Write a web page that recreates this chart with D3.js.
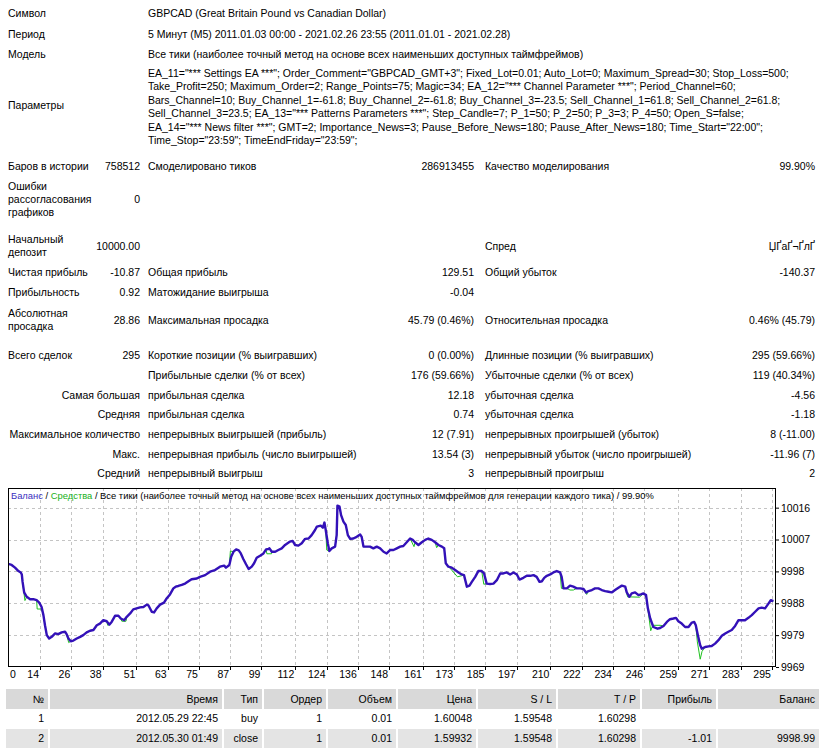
<!DOCTYPE html>
<html lang="ru">
<head>
<meta charset="UTF-8">
<title>Strategy Tester Report GBPCAD</title>
<script src="https://d3js.org/d3.v7.min.js"></script>
<style>
  body { margin: 0; background: #fff; }
  svg { display: block; font-family: "Liberation Sans", Arial, sans-serif; font-size: 10.5px; }
</style>
</head>
<body>
<div id="report"></div>
<script>
// --- chart data ---
const balanceTrade = [1.8,3.1,4.4,5.7,6.6,7.0,7.3,7.9,8.9,10.2,11.4,12.7,13.7,14.6,15.3,15.9,16.6,17.5,18.5,19.8,21.0,22.3,23.6,24.2,24.9,25.8,26.8,28.1,29.4,30.6,31.9,33.2,34.5,35.8,37.0,38.3,39.6,40.6,41.5,42.8,44.1,45.0,46.3,47.3,48.6,49.8,51.1,52.4,53.7,55.0,55.6,56.9,57.8,58.8,60.1,61.6,62.6,63.9,65.2,66.1,67.1,68.4,69.7,71.0,72.2,74.2,75.4,77.4,79.3,81.2,83.1,84.7,85.4,86.7,87.4,88.3,89.3,90.3,91.1,92.1,93.1,94.1,95.3,96.2,97.2,98.5,99.8,100.8,101.7,102.1,103.0,104.3,105.5,106.8,108.1,110.0,111.0,111.9,113.2,114.5,115.8,117.1,118.3,119.6,120.3,121.8,122.6,123.2,123.7,124.5,125.1,126.0,127.3,127.9,128.2,129.0,129.6,130.5,131.4,132.2,133.1,134.3,135.6,136.9,137.5,138.2,139.5,140.7,142.0,143.3,144.6,145.9,147.1,148.4,149.7,151.0,152.3,153.5,154.8,156.1,157.1,158.0,159.3,160.6,161.9,163.1,164.4,165.7,167.0,168.3,169.2,169.8,170.8,172.1,173.4,174.7,175.9,176.8,177.9,178.9,179.8,181.1,182.3,183.6,184.5,185.5,186.8,188.1,189.4,190.7,191.9,193.2,194.5,195.8,197.1,198.1,199.6,200.9,202.2,203.5,204.7,205.8,206.7,207.6,208.6,209.9,211.1,212.4,213.7,214.3,215.0,216.3,217.5,218.8,220.1,221.4,222.7,223.7,224.6,225.9,227.1,228.4,229.7,231.0,232.3,233.5,234.8,236.1,237.4,238.7,239.3,240.3,241.2,242.5,243.8,244.7,245.7,246.7,247.4,248.3,249.5,251.1,252.1,253.4,254.7,255.9,257.2,258.2,259.1,260.4,261.7,263.0,264.3,265.2,265.8,266.6,267.5,268.1,269.4,270.7,271.9,273.2,274.5,275.8,277.1,278.3,279.6,280.9,282.2,283.5,284.7,286.0,287.3,288.6,289.9,291.1,292.4,293.7,294.6,295.6];
const balance = [9999.8,9999.5,9998.7,9997.7,9997.3,9996.7,9994.5,9991.4,9990.1,9989.4,9989.4,9989.1,9988.4,9987.1,9984.7,9981.7,9978.8,9977.8,9978.3,9979.3,9979.1,9979.6,9979.8,9979.1,9977.8,9977.0,9977.2,9977.8,9978.3,9978.8,9979.6,9980.1,9980.3,9981.7,9982.2,9983.2,9982.9,9981.9,9982.7,9984.5,9984.5,9983.7,9983.2,9984.2,9985.2,9986.4,9986.7,9987.0,9987.1,9987.8,9987.6,9985.7,9985.5,9986.7,9987.8,9988.4,9989.6,9990.8,9992.6,9993.1,9993.3,9993.6,9994.0,9994.7,9995.3,9995.5,9996.0,9996.5,9997.5,9998.0,9999.0,9999.3,9998.7,9999.5,10001.9,10003.4,10004.1,10003.8,10002.9,10001.2,9999.7,9998.3,9999.0,10000.0,10001.6,10002.2,10002.9,10004.1,10004.2,10004.4,10003.4,10003.4,10003.9,10004.4,10005.4,10006.4,10006.6,10005.4,10005.2,10005.9,10007.2,10007.3,10008.3,10009.8,10010.8,10011.1,10010.5,10012.0,10009.8,10005.9,10003.6,10004.4,10004.9,10008.3,10017.0,10016.7,10014.2,10012.3,10011.3,10008.3,10007.2,10007.3,10007.8,10008.5,10007.8,10004.9,10004.9,10004.9,10004.4,10004.9,10004.4,10003.4,10002.9,10003.9,10003.9,10004.4,10004.9,10005.1,10006.2,10007.3,10006.9,10006.2,10005.4,10006.2,10006.9,10007.3,10006.9,10006.2,10005.4,10004.9,10004.4,10000.0,9999.0,9998.7,9998.0,9997.3,9996.7,9996.5,9993.1,9993.4,9994.5,9996.0,9997.7,9997.7,9997.0,9994.0,9993.9,9994.0,9995.0,9997.0,9997.0,9997.3,9996.7,9997.3,9996.7,9995.2,9995.7,9996.3,9996.3,9996.5,9996.0,9994.5,9994.7,9995.7,9996.3,9996.7,9997.3,9997.7,9997.3,9996.0,9992.6,9992.6,9993.4,9993.1,9992.6,9992.6,9992.4,9991.4,9991.8,9992.1,9992.6,9992.6,9992.1,9991.8,9991.6,9991.4,9992.1,9992.8,9993.4,9993.1,9991.4,9990.1,9991.1,9991.4,9990.6,9990.8,9991.1,9990.6,9986.7,9983.7,9981.2,9980.7,9980.9,9981.5,9982.7,9983.5,9983.7,9983.9,9982.9,9982.2,9981.2,9981.2,9982.5,9982.7,9981.7,9978.8,9975.8,9974.8,9975.3,9975.5,9975.6,9976.3,9977.3,9978.6,9979.3,9979.8,9980.3,9981.5,9983.2,9983.2,9983.2,9983.9,9984.7,9985.7,9986.7,9986.9,9986.7,9988.1,9989.1,9988.8];

// equity differs from balance only in these stretches: [trade, equity]
const equitySegments = [
  [[7.3, 9994.5], [8.2, 9989.0], [8.9, 9990.1]],
  [[12.7, 9989.1], [12.9, 9986.5], [14.5, 9986.5], [15.3, 9984.7]],
  [[24.2, 9979.1], [25.0, 9976.6], [25.8, 9977.0]],
  [[39.6, 9982.9], [40.0, 9981.7], [40.6, 9981.9]],
  [[45.0, 9983.7], [45.4, 9982.9], [47.0, 9982.9], [47.3, 9984.2]],
  [[86.7, 9999.5], [87.1, 10003.6], [88.3, 10003.4]],
  [[100.8, 10004.1], [101.1, 10002.8], [102.9, 10002.8], [103.0, 10003.4]],
  [[123.7, 10009.8], [124.1, 10003.9], [125.1, 10003.6]],
  [[156.1, 10007.3], [157.6, 10004.9], [158.0, 10006.2]],
  [[165.7, 10006.2], [166.3, 10004.6], [167.0, 10005.4]],
  [[169.8, 10000.0], [174.3, 9996.0], [176.8, 9996.5]],
  [[183.6, 9997.7], [184.4, 9993.8], [185.5, 9994.0]],
  [[213.7, 9997.3], [214.2, 9992.6], [215.0, 9992.6]],
  [[216.3, 9992.6], [217.5, 9992.1], [218.8, 9992.1], [220.1, 9992.6]],
  [[222.7, 9992.4], [223.9, 9990.8], [224.6, 9991.8]],
  [[238.7, 9993.1], [239.6, 9990.1], [244.2, 9990.0], [245.7, 9991.1]],
  [[246.7, 9990.6], [248.5, 9980.1], [249.3, 9981.7], [252.1, 9981.7], [253.4, 9981.5]],
  [[265.8, 9981.7], [266.4, 9976.8], [267.5, 9971.7], [268.2, 9974.0], [269.4, 9975.3]]
];

const xTickLabels = [0, 14, 26, 38, 51, 63, 75, 87, 99, 112, 124, 136, 148, 161, 173, 185, 197, 210, 222, 234, 246, 259, 271, 283, 295];
const yTickValues = [9969.4, 9978.8, 9988.2, 9997.6, 10007.0, 10016.4];
const chartTitleRest = " / Все тики (наиболее точный метод на основе всех наименьших доступных таймфреймов для генерации каждого тика) / 99.90%";

// --- report text ---
const headerRows = [
  ["Символ", "GBPCAD (Great Britain Pound vs Canadian Dollar)", 13],
  ["Период", "5 Минут (M5) 2011.01.03 00:00 - 2021.02.26 23:55 (2011.01.01 - 2021.02.28)", 34],
  ["Модель", "Все тики (наиболее точный метод на основе всех наименьших доступных таймфреймов)", 54]
];
const paramLines = [
  'EA_11="*** Settings EA ***"; Order_Comment="GBPCAD_GMT+3"; Fixed_Lot=0.01; Auto_Lot=0; Maximum_Spread=30; Stop_Loss=500;',
  'Take_Profit=250; Maximum_Order=2; Range_Points=75; Magic=34; EA_12="*** Channel Parameter ***"; Period_Channel=60;',
  'Bars_Channel=10; Buy_Channel_1=-61.8; Buy_Channel_2=-61.8; Buy_Channel_3=-23.5; Sell_Channel_1=61.8; Sell_Channel_2=61.8;',
  'Sell_Channel_3=23.5; EA_13="*** Patterns Parameters ***"; Step_Candle=7; P_1=50; P_2=50; P_3=3; P_4=50; Open_S=false;',
  'EA_14="*** News filter ***"; GMT=2; Importance_News=3; Pause_Before_News=180; Pause_After_News=180; Time_Start="22:00";',
  'Time_Stop="23:59"; TimeEndFriday="23:59";'
];
// [y, label A (lines), value A, label B, value B, label C, value C]
const statRows = [
  [166, ["Баров в истории"], "758512", "Смоделировано тиков", "286913455", "Качество моделирования", "99.90%"],
  [199, ["Ошибки", "рассогласования", "графиков"], "0", "", "", "", ""],
  [246, ["Начальный", "депозит"], "10000.00", "", "", "Спред", "ЏҐаҐ¬ҐлҐ"],
  [272, ["Чистая прибыль"], "-10.87", "Общая прибыль", "129.51", "Общий убыток", "-140.37"],
  [292, ["Прибыльность"], "0.92", "Матожидание выигрыша", "-0.04", "", ""],
  [320, ["Абсолютная", "просадка"], "28.86", "Максимальная просадка", "45.79 (0.46%)", "Относительная просадка", "0.46% (45.79)"],
  [355, ["Всего сделок"], "295", "Короткие позиции (% выигравших)", "0 (0.00%)", "Длинные позиции (% выигравших)", "295 (59.66%)"],
  [375, [], "", "Прибыльные сделки (% от всех)", "176 (59.66%)", "Убыточные сделки (% от всех)", "119 (40.34%)"],
  [395, [], "Самая большая", "прибыльная сделка", "12.18", "убыточная сделка", "-4.56"],
  [414, [], "Средняя", "прибыльная сделка", "0.74", "убыточная сделка", "-1.18"],
  [434, [], "Максимальное количество", "непрерывных выигрышей (прибыль)", "12 (7.91)", "непрерывных проигрышей (убыток)", "8 (-11.00)"],
  [454, [], "Макс.", "непрерывная прибыль (число выигрышей)", "13.54 (3)", "непрерывный убыток (число проигрышей)", "-11.96 (7)"],
  [473, [], "Средний", "непрерывный выигрыш", "3", "непрерывный проигрыш", "2"]
];

const tableHead = ["№", "Время", "Тип", "Ордер", "Объем", "Цена", "S / L", "T / P", "Прибыль", "Баланс"];
const tableRows = [
  ["1", "2012.05.29 22:45", "buy", "1", "0.01", "1.60048", "1.59548", "1.60298", "", ""],
  ["2", "2012.05.30 01:49", "close", "1", "0.01", "1.59932", "1.59548", "1.60298", "-1.01", "9998.99"]
];

// --- drawing ---
const W = 825, H = 750;
const svg = d3.select("#report").append("svg").attr("width", W).attr("height", H);

function txt(x, y, s, anchor) {
  return svg.append("text")
    .attr("x", x).attr("y", y).attr("dy", "0.35em")
    .attr("text-anchor", anchor || "start")
    .attr("fill", "#000")
    .text(s);
}

const colA = 8, colAv = 140, colB = 148, colBv = 474, colC = 485, colCv = 815;

headerRows.forEach(r => { txt(colA, r[2], r[0]); txt(colB, r[2], r[1]); });
txt(colA, 105, "Параметры");
paramLines.forEach((s, i) => txt(colB, 73 + i * 13.5, s));

statRows.forEach(r => {
  const [y, labA, valA, labB, valB, labC, valC] = r;
  const n = labA.length;
  labA.forEach((s, i) => txt(colA, y + (i - (n - 1) / 2) * 13, s));
  if (valA) txt(colAv, y, valA, "end");
  if (labB) txt(colB, y, labB);
  if (valB) txt(colBv, y, valB, "end");
  if (labC) txt(colC, y, labC);
  if (valC) txt(colCv, y, valC, "end");
});

// chart
const frame = { left: 8, right: 776, top: 488, bottom: 667 };
const x = d3.scaleLinear().domain([1.7, 296.6]).range([frame.left, frame.right]);
const y = d3.scaleLinear().domain([9969.4, 10022.2]).range([frame.bottom, frame.top]);

const g = svg.append("g");
g.append("rect").attr("x", frame.left).attr("y", frame.top)
  .attr("width", frame.right - frame.left).attr("height", frame.bottom - frame.top)
  .attr("fill", "#fff");

// grid
g.selectAll(".hgrid").data(yTickValues.slice(1)).enter().append("line")
  .attr("x1", frame.left).attr("x2", frame.right)
  .attr("y1", d => Math.round(y(d)) + 0.5).attr("y2", d => Math.round(y(d)) + 0.5)
  .attr("stroke", "#c4c4c4").attr("stroke-dasharray", "3,3");
g.selectAll(".vgrid").data(xTickLabels.slice(1)).enter().append("line")
  .attr("x1", d => Math.round(x(d)) + 0.5).attr("x2", d => Math.round(x(d)) + 0.5)
  .attr("y1", frame.top).attr("y2", frame.bottom)
  .attr("stroke", "#c4c4c4").attr("stroke-dasharray", "3,3");

svg.append("clipPath").attr("id", "plotclip").append("rect")
  .attr("x", frame.left).attr("y", frame.top)
  .attr("width", frame.right - frame.left).attr("height", frame.bottom - frame.top);

const balancePts = balanceTrade.map((t, k) => [t, balance[k]]);
let equityPts = balancePts.filter(p => !equitySegments.some(s => p[0] >= s[0][0] && p[0] <= s[s.length - 1][0]));
equitySegments.forEach(s => equityPts.push(...s));
equityPts.sort((a, b) => a[0] - b[0]);

const line = d3.line().x(d => x(d[0])).y(d => y(d[1]));
const plot = g.append("g").attr("clip-path", "url(#plotclip)");
plot.append("path").datum(equityPts).attr("d", line)
  .attr("fill", "none").attr("stroke", "#1fc21f").attr("stroke-width", 1);
plot.append("path").datum(balancePts).attr("d", line)
  .attr("fill", "none").attr("stroke", "#3311b8").attr("stroke-width", 2.4)
  .attr("stroke-linejoin", "round");

// frame border
g.append("rect").attr("x", frame.left + 0.5).attr("y", frame.top + 0.5)
  .attr("width", frame.right - frame.left - 1).attr("height", frame.bottom - frame.top - 1)
  .attr("fill", "none").attr("stroke", "#000");

// y axis on the right
const yAxis = d3.axisRight(y).tickValues(yTickValues).tickFormat(d3.format(".0f")).tickSize(3).tickPadding(2);
const ya = svg.append("g").attr("transform", `translate(${frame.right},0)`).call(yAxis);
ya.select(".domain").remove();
ya.selectAll("text").attr("font-family", "inherit").attr("font-size", "10.5px").attr("fill", "#000");

// x axis labels: right-aligned to their grid line
const xa = svg.append("g");
xa.selectAll("line").data(xTickLabels.slice(1)).enter().append("line")
  .attr("x1", d => Math.round(x(d)) + 0.5).attr("x2", d => Math.round(x(d)) + 0.5)
  .attr("y1", frame.bottom).attr("y2", frame.bottom + 3).attr("stroke", "#000");
xa.selectAll("text").data(xTickLabels).enter().append("text")
  .attr("x", d => d === 0 ? frame.left + 2 : x(d) - 1)
  .attr("y", 674).attr("dy", "0.35em")
  .attr("text-anchor", d => d === 0 ? "start" : "end")
  .text(d => d);

// title inside chart
const title = svg.append("text").attr("x", 11).attr("y", 496).attr("dy", "0.35em").attr("font-size", "9.4px");
title.append("tspan").attr("fill", "#3a2fc0").text("Баланс");
title.append("tspan").attr("fill", "#000").text(" / ");
title.append("tspan").attr("fill", "#20b020").text("Средства");
title.append("tspan").attr("fill", "#000").text(chartTitleRest);

// deals table
const colRight = [48, 222, 262, 326, 396, 476, 556, 640, 716, 819];
const colLeft = [6].concat(colRight.slice(0, -1).map(v => v + 2));
const rowTop = [689, 709, 729], rowH = [20, 19, 19];
const rowFill = ["#d9d9d9", "#fff", "#e4e4e4"];
[tableHead].concat(tableRows).forEach((row, r) => {
  row.forEach((s, c) => {
    svg.append("rect").attr("x", colLeft[c]).attr("y", rowTop[r])
      .attr("width", colRight[c] - colLeft[c]).attr("height", rowH[r])
      .attr("fill", rowFill[r]);
    if (s) txt(colRight[c] - 4, rowTop[r] + rowH[r] / 2, s, "end");
  });
});
</script>
</body>
</html>
